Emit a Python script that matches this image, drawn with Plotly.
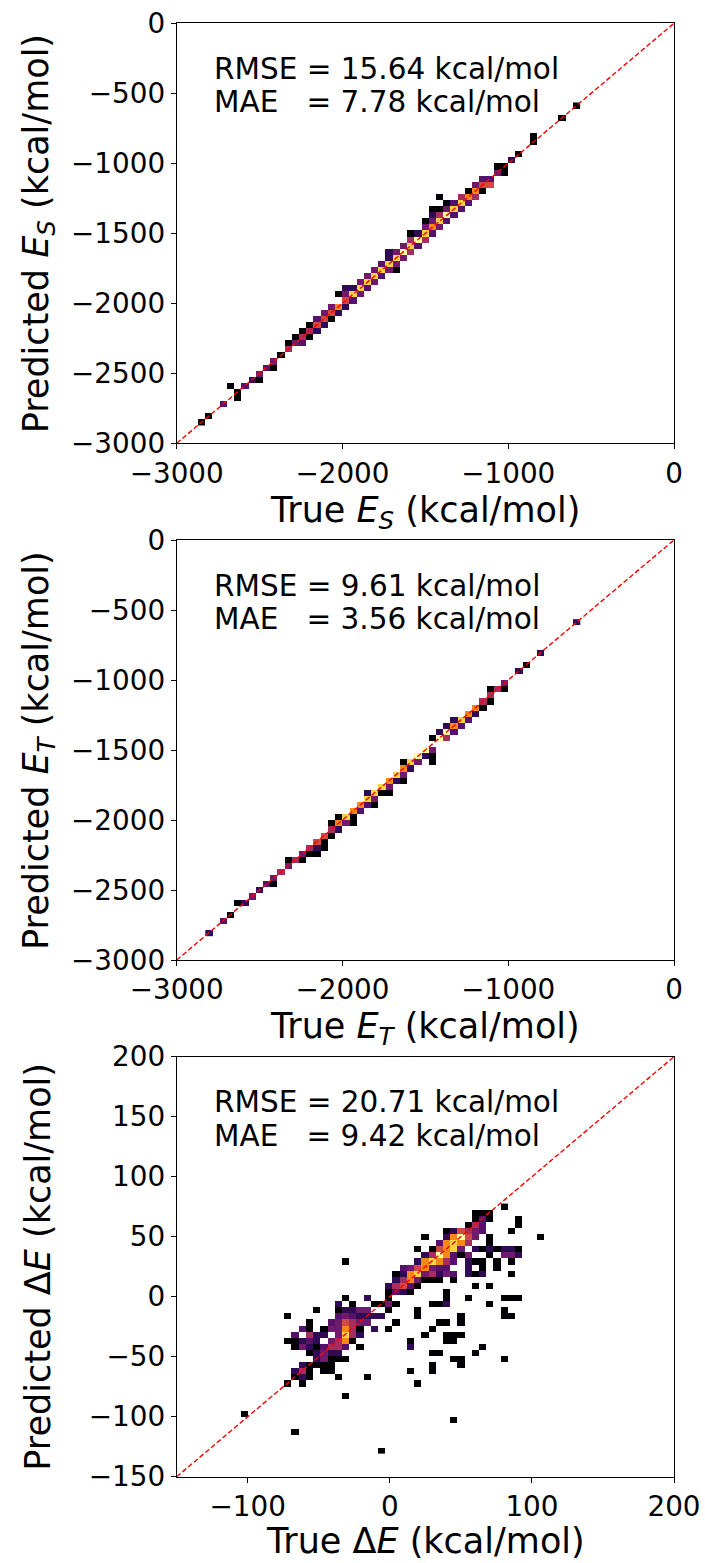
import numpy as np
import plotly.graph_objects as go

# ---------------- data (bin centres in kcal/mol, counts per bin) ----------------
# Panel 1 : singlet energy E_S
es_true = [-2849, -2806, -2718, -2675, -2632, -2632, -2588, -2544, -2501, -2501, -2458, -2414, -2414,
           -2370, -2327, -2327, -2284, -2284, -2240, -2240, -2240, -2196, -2196, -2196, -2153, -2153,
           -2153, -2110, -2110, -2110, -2066, -2066, -2066, -2022, -2022, -2022, -1979, -1979, -1979,
           -1979, -1936, -1936, -1936, -1892, -1892, -1892, -1848, -1848, -1848, -1805, -1805, -1805,
           -1762, -1762, -1762, -1718, -1718, -1718, -1718, -1674, -1674, -1674, -1674, -1631, -1631,
           -1631, -1588, -1588, -1588, -1588, -1544, -1544, -1544, -1500, -1500, -1500, -1500, -1457,
           -1457, -1457, -1457, -1457, -1414, -1414, -1414, -1414, -1414, -1370, -1370, -1370, -1370,
           -1326, -1326, -1326, -1283, -1283, -1283, -1240, -1240, -1240, -1196, -1196, -1196, -1152,
           -1152, -1152, -1109, -1109, -1066, -1066, -1022, -1022, -978, -935, -848, -848, -674, -587]
es_pred = [-2849, -2806, -2718, -2588, -2675, -2632, -2588, -2544, -2544, -2501, -2458, -2458, -2414,
           -2370, -2327, -2284, -2284, -2240, -2284, -2240, -2196, -2240, -2196, -2153, -2196, -2153,
           -2110, -2153, -2110, -2066, -2110, -2066, -2022, -2066, -2022, -1936, -2022, -1979, -1936,
           -1892, -1979, -1936, -1892, -1936, -1892, -1848, -1892, -1848, -1805, -1848, -1805, -1762,
           -1805, -1762, -1718, -1762, -1718, -1674, -1631, -1762, -1718, -1674, -1631, -1674, -1631,
           -1588, -1631, -1588, -1544, -1500, -1588, -1544, -1500, -1544, -1500, -1457, -1414, -1500,
           -1457, -1414, -1370, -1326, -1457, -1414, -1370, -1326, -1240, -1414, -1370, -1326, -1283,
           -1370, -1326, -1283, -1326, -1283, -1240, -1283, -1240, -1196, -1240, -1196, -1152, -1196,
           -1152, -1109, -1152, -1109, -1066, -1022, -1066, -1022, -978, -935, -848, -804, -674, -587]
es_count = [1, 1, 3, 1, 1, 1, 3, 2, 1, 4, 3, 1, 4,
            1, 7, 1, 4, 1, 3, 7, 1, 1, 7, 1, 2, 12,
            3, 2, 12, 4, 1, 12, 4, 2, 25, 1, 2, 12, 4,
            2, 3, 50, 2, 4, 50, 4, 3, 50, 4, 4, 50, 4,
            3, 50, 3, 4, 50, 2, 2, 1, 4, 50, 4, 4, 80,
            4, 7, 50, 7, 1, 3, 80, 2, 7, 50, 4, 1, 3,
            25, 4, 2, 1, 4, 50, 7, 1, 1, 3, 80, 4, 1,
            3, 50, 3, 3, 50, 7, 3, 25, 1, 7, 25, 4, 1,
            12, 3, 12, 3, 4, 1, 1, 1, 2, 1, 1, 1, 1, 1]

# Panel 2 : triplet energy E_T
et_true = [-2806, -2718, -2675, -2632, -2588, -2544, -2501, -2458, -2414, -2414, -2370, -2327, -2327,
           -2284, -2240, -2240, -2196, -2196, -2153, -2153, -2153, -2110, -2110, -2110, -2066, -2066,
           -2066, -2022, -2022, -2022, -1979, -1979, -1936, -1936, -1936, -1892, -1892, -1848, -1848,
           -1848, -1805, -1805, -1805, -1762, -1762, -1718, -1718, -1718, -1674, -1674, -1631, -1631,
           -1631, -1631, -1588, -1588, -1544, -1544, -1500, -1500, -1457, -1457, -1457, -1457, -1414,
           -1414, -1370, -1370, -1370, -1326, -1326, -1326, -1283, -1283, -1240, -1240, -1196, -1196,
           -1152, -1152, -1109, -1109, -1109, -1066, -1022, -1022, -935, -892, -804, -587]
et_pred = [-2806, -2718, -2675, -2588, -2588, -2544, -2501, -2458, -2458, -2414, -2370, -2327, -2284,
           -2284, -2284, -2240, -2240, -2196, -2240, -2196, -2153, -2196, -2153, -2110, -2110, -2066,
           -2022, -2066, -2022, -1979, -2022, -1979, -2022, -1979, -1936, -1936, -1892, -1892, -1848,
           -1805, -1892, -1848, -1805, -1805, -1762, -1805, -1762, -1718, -1718, -1674, -1718, -1674,
           -1631, -1588, -1631, -1588, -1588, -1544, -1544, -1500, -1588, -1544, -1500, -1414, -1414,
           -1370, -1414, -1370, -1326, -1370, -1326, -1283, -1326, -1283, -1283, -1240, -1240, -1196,
           -1196, -1152, -1152, -1109, -1066, -1066, -1066, -1022, -935, -892, -804, -587]
et_count = [2, 3, 1, 1, 2, 4, 2, 3, 1, 4, 7, 4, 1,
            7, 1, 4, 1, 7, 1, 2, 12, 1, 1, 12, 1, 7,
            1, 2, 25, 1, 4, 50, 1, 1, 25, 3, 25, 3, 50,
            2, 1, 4, 50, 1, 50, 1, 4, 25, 2, 50, 1, 4,
            25, 1, 2, 50, 4, 80, 2, 80, 1, 1, 4, 1, 80,
            2, 7, 80, 2, 3, 25, 2, 3, 50, 3, 25, 2, 25,
            1, 7, 1, 7, 1, 7, 1, 4, 2, 1, 2, 2]

# Panel 3 : gap Delta E
de_true = [80.5,
           60.2, 65.3, 70.3,
           60.2, 65.3, 70.3, 90.6,
           55.1, 60.2, 65.3, 90.6,
           39.9, 45.0, 50.0, 55.1, 60.2, 65.3, 85.6,
           24.7, 39.9, 45.0, 50.0, 55.1, 60.2, 70.3, 105.9,
           34.8, 39.9, 45.0, 50.0, 55.1, 70.3,
           19.6, 29.7, 34.8, 39.9, 45.0, 50.0, 60.2, 65.3, 70.3, 75.4, 80.5, 85.6, 90.6,
           24.7, 29.7, 34.8, 39.9, 45.0, 50.0, 55.1, 70.3, 80.5, 85.6, 90.6,
           -31.2, 19.6, 24.7, 29.7, 34.8, 39.9, 45.0, 55.1, 60.2, 65.3, 75.4, 85.6,
           9.4, 14.5, 19.6, 24.7, 29.7, 34.8, 39.9, 55.1, 65.3, 75.4,
           4.4, 9.4, 14.5, 19.6, 24.7, 29.7, 34.8, 39.9, 45.0, 55.1, 60.2, 65.3, 85.6,
           4.4, 9.4, 14.5, 19.6, 24.7, 29.7, 34.8, 45.0,
           -0.7, 4.4, 9.4, 14.5, 19.6, 60.2, 70.3,
           -0.7, 4.4, 9.4, 14.5, 39.9,
           -31.2, -15.9, -0.7, 39.9, 55.1, 80.5, 85.6, 90.6,
           -36.2, -26.1, -10.9, -5.8, -0.7, 4.4, 29.7, 34.8, 39.9, 70.3,
           -51.5, -36.2, -31.2, -26.1, -21.0, -15.9, -0.7, 19.6, 80.5,
           -71.8, -36.2, -31.2, -26.1, -21.0, -15.9, -10.9, -5.8, 19.6, 50.0, 80.5, 85.6,
           -56.5, -41.3, -36.2, -31.2, -26.1, -21.0, -15.9, 4.4, 34.8, 39.9, 50.0,
           -61.6, -56.5, -46.4, -41.3, -36.2, -31.2, -26.1, -21.0, -10.9, -0.7, 29.7,
           -66.7, -56.5, -51.5, -46.4, -36.2, -31.2, -26.1, -21.0, 24.7, 39.9, 45.0, 50.0,
           -71.8, -66.7, -61.6, -56.5, -51.5, -41.3, -36.2, -31.2, -26.1, 14.5, 39.9, 45.0,
           -66.7, -61.6, -56.5, -51.5, -46.4, -41.3, -36.2, -31.2, -21.0, 14.5, 65.3,
           -56.5, -51.5, -46.4, -41.3, -36.2, 29.7, 34.8, 60.2,
           -51.5, -46.4, -41.3, -36.2, -31.2, 45.0, 50.0, 80.5,
           -61.6, -56.5, -51.5, -46.4, -41.3, 29.7, 50.0,
           -66.7, -61.6, -56.5, -46.4, -41.3, 14.5, 29.7,
           -66.7, -61.6, -56.5, -36.2, -15.9,
           -71.8, -61.6, 19.6,
           -31.2,
           -102.2,
           45.0,
           -66.7,
           -5.8]
de_pred = [75.0,
           70.0, 70.0, 70.0,
           64.9, 64.9, 64.9, 64.9,
           59.8, 59.8, 59.8, 59.8,
           54.7, 54.7, 54.7, 54.7, 54.7, 54.7, 54.7,
           49.7, 49.7, 49.7, 49.7, 49.7, 49.7, 49.7, 49.7,
           44.6, 44.6, 44.6, 44.6, 44.6, 44.6,
           39.5, 39.5, 39.5, 39.5, 39.5, 39.5, 39.5, 39.5, 39.5, 39.5, 39.5, 39.5, 39.5,
           34.4, 34.4, 34.4, 34.4, 34.4, 34.4, 34.4, 34.4, 34.4, 34.4, 34.4,
           29.4, 29.4, 29.4, 29.4, 29.4, 29.4, 29.4, 29.4, 29.4, 29.4, 29.4, 29.4,
           24.3, 24.3, 24.3, 24.3, 24.3, 24.3, 24.3, 24.3, 24.3, 24.3,
           19.2, 19.2, 19.2, 19.2, 19.2, 19.2, 19.2, 19.2, 19.2, 19.2, 19.2, 19.2, 19.2,
           14.1, 14.1, 14.1, 14.1, 14.1, 14.1, 14.1, 14.1,
           9.1, 9.1, 9.1, 9.1, 9.1, 9.1, 9.1,
           4.0, 4.0, 4.0, 4.0, 4.0,
           -1.1, -1.1, -1.1, -1.1, -1.1, -1.1, -1.1, -1.1,
           -6.2, -6.2, -6.2, -6.2, -6.2, -6.2, -6.2, -6.2, -6.2, -6.2,
           -11.2, -11.2, -11.2, -11.2, -11.2, -11.2, -11.2, -11.2, -11.2,
           -16.3, -16.3, -16.3, -16.3, -16.3, -16.3, -16.3, -16.3, -16.3, -16.3, -16.3, -16.3,
           -21.4, -21.4, -21.4, -21.4, -21.4, -21.4, -21.4, -21.4, -21.4, -21.4, -21.4,
           -26.5, -26.5, -26.5, -26.5, -26.5, -26.5, -26.5, -26.5, -26.5, -26.5, -26.5,
           -31.5, -31.5, -31.5, -31.5, -31.5, -31.5, -31.5, -31.5, -31.5, -31.5, -31.5, -31.5,
           -36.6, -36.6, -36.6, -36.6, -36.6, -36.6, -36.6, -36.6, -36.6, -36.6, -36.6, -36.6,
           -41.7, -41.7, -41.7, -41.7, -41.7, -41.7, -41.7, -41.7, -41.7, -41.7, -41.7,
           -46.8, -46.8, -46.8, -46.8, -46.8, -46.8, -46.8, -46.8,
           -51.8, -51.8, -51.8, -51.8, -51.8, -51.8, -51.8, -51.8,
           -56.9, -56.9, -56.9, -56.9, -56.9, -56.9, -56.9,
           -62.0, -62.0, -62.0, -62.0, -62.0, -62.0, -62.0,
           -67.1, -67.1, -67.1, -67.1, -67.1,
           -72.1, -72.1, -72.1,
           -82.3,
           -97.5,
           -102.6,
           -112.7,
           -128.0]
de_count = [1,
            1, 1, 1,
            1, 3, 1, 1,
            1, 7, 3, 1,
            1, 2, 12, 7, 4, 3, 1,
            1, 2, 25, 80, 12, 4, 1, 1,
            3, 25, 50, 25, 7, 1,
            1, 1, 12, 25, 50, 4, 2, 1, 2, 1, 2, 2, 1,
            2, 7, 80, 25, 3, 1, 4, 1, 4, 4, 2,
            1, 2, 25, 50, 25, 7, 3, 2, 1, 1, 1, 1,
            3, 4, 12, 25, 4, 3, 3, 2, 1, 1,
            1, 2, 25, 50, 4, 7, 2, 4, 3, 2, 1, 2, 1,
            2, 7, 25, 4, 1, 1, 1, 1,
            2, 7, 12, 3, 1, 1, 1,
            1, 3, 2, 1, 1,
            1, 2, 1, 1, 1, 1, 1, 1,
            2, 1, 1, 1, 4, 1, 1, 1, 2, 1,
            1, 1, 2, 2, 4, 4, 1, 1, 1,
            1, 3, 4, 3, 2, 2, 2, 2, 1, 1, 1, 1,
            1, 3, 4, 12, 7, 4, 4, 1, 1, 1, 1,
            3, 1, 1, 4, 4, 25, 7, 1, 2, 1, 1,
            3, 7, 2, 2, 4, 50, 7, 2, 1, 1, 1, 1,
            1, 1, 2, 3, 2, 4, 7, 25, 1, 1, 1, 1,
            1, 4, 2, 1, 3, 7, 7, 3, 1, 2, 1,
            1, 2, 4, 2, 2, 1, 1, 1,
            2, 4, 1, 1, 1, 1, 1, 1,
            2, 1, 1, 1, 1, 1, 1,
            2, 7, 1, 1, 1, 1, 1,
            1, 2, 1, 1, 1,
            1, 1, 1,
            1,
            1,
            1,
            1,
            1]

# histogram bin settings: (start, size, number of bins) for true / predicted axes
es_xbins, es_ybins = (-2871.0, 43.5, 53), (-2871.0, 43.5, 53)
et_xbins, et_ybins = (-2827.5, 43.5, 52), (-2827.5, 43.5, 52)
de_xbins, de_ybins = (-104.75, 5.075, 42), (-130.5, 5.075, 41)

# axis limits and ticks
e_range = [-3000, 0]
e_xticks = [-3000, -2000, -1000, 0]
e_yticks = [-3000, -2500, -2000, -1500, -1000, -500, 0]
d_range = [-150, 200]
d_xticks = [-100, 0, 100, 200]
d_yticks = [-150, -100, -50, 0, 50, 100, 150, 200]

# metrics
rmse_vals = ["15.64", "9.61", "20.71"]
mae_vals = ["7.78", "3.56", "9.42"]
x_titles = ["True <i>E</i><sub><i>S</i></sub> (kcal/mol)",
            "True <i>E</i><sub><i>T</i></sub> (kcal/mol)",
            "True Δ<i>E</i> (kcal/mol)"]
y_titles = ["Predicted <i>E</i><sub><i>S</i></sub> (kcal/mol)",
            "Predicted <i>E</i><sub><i>T</i></sub> (kcal/mol)",
            "Predicted Δ<i>E</i> (kcal/mol)"]

# ---------------- figure ----------------
W, H = 705, 1563
FONT = "DejaVu Sans"
# matplotlib 'inferno' sampled at deciles
inferno = ["#000004", "#160b39", "#420a68", "#6a176e", "#932667", "#bc3754",
           "#dd513a", "#f37819", "#fca50a", "#f6d746", "#fcffa4"]
cscale = [[i / (len(inferno) - 1), c] for i, c in enumerate(inferno)]

# pixel layout of the three axes boxes
x_left, x_right = 176.7, 674.0
tops = [23.3, 540.0, 1056.7]
box_h = 420.0
xtitle_y = [-0.1636, -0.1636, -0.152]

panels = [
    (es_true, es_pred, es_count, es_xbins, es_ybins, e_range, e_range, e_xticks, e_yticks),
    (et_true, et_pred, et_count, et_xbins, et_ybins, e_range, e_range, e_xticks, e_yticks),
    (de_true, de_pred, de_count, de_xbins, de_ybins, d_range, d_range, d_xticks, d_yticks),
]


def edges(b):
    start, size, n = b
    return start + size * np.arange(n + 1)


def fmt(v):
    return str(v).replace("-", "\u2212")


fig = go.Figure()
annotations = []
layout_axes = {}
for k, (tv, pv, cv, xb, yb, xr, yr, xt, yt) in enumerate(panels):
    sfx = "" if k == 0 else str(k + 1)
    xe, ye = edges(xb), edges(yb)
    Hc, _, _ = np.histogram2d(np.array(tv, float), np.array(pv, float),
                              bins=[xe, ye], weights=np.array(cv, float))
    Z = Hc.T
    zmax = np.log10(Z.max())
    zl = [[(float(np.log10(v)) if v > 0 else None) for v in row] for row in Z]
    fig.add_trace(go.Heatmap(x=xe.tolist(), y=ye.tolist(), z=zl, colorscale=cscale,
                             zmin=0, zmax=float(zmax),
                             showscale=False, hoverinfo="skip",
                             xaxis="x" + sfx, yaxis="y" + sfx))
    fig.add_trace(go.Scatter(x=xr, y=yr, mode="lines", showlegend=False, hoverinfo="skip",
                             line=dict(color="red", width=1.4, dash="5px,2.5px"),
                             xaxis="x" + sfx, yaxis="y" + sfx))
    top = tops[k]
    bot = top + box_h
    ydom = [1 - bot / H, 1 - top / H]
    common = dict(showline=True, linecolor="black", linewidth=1.1, mirror=True,
                  ticks="outside", ticklen=5, tickwidth=1.1, tickcolor="black",
                  showgrid=False, zeroline=False, automargin=False,
                  tickfont=dict(family=FONT, size=27.8, color="black"))
    layout_axes["xaxis" + sfx] = dict(domain=[x_left / W, x_right / W], range=xr,
                                      tickvals=xt, ticktext=[fmt(v) for v in xt],
                                      anchor="y" + sfx, **common)
    layout_axes["yaxis" + sfx] = dict(domain=ydom, range=yr,
                                      tickvals=yt, ticktext=[fmt(v) for v in yt],
                                      anchor="x" + sfx, **common)
    xref, yref = "x" + sfx + " domain", "y" + sfx + " domain"
    annotations.append(dict(text=x_titles[k], xref=xref, yref=yref, x=0.5, y=xtitle_y[k],
                            xanchor="center", yanchor="middle", showarrow=False,
                            font=dict(family=FONT, size=35, color="black")))
    annotations.append(dict(text=y_titles[k], xref=xref, yref=yref, x=-0.279, y=0.5,
                            textangle=-90, xanchor="center", yanchor="middle", showarrow=False,
                            font=dict(family=FONT, size=35, color="black")))
    annotations.append(dict(text="RMSE = " + rmse_vals[k] + " kcal/mol", xref=xref, yref=yref,
                            x=0.0704, y=0.8912, xanchor="left", yanchor="middle", showarrow=False,
                            font=dict(family=FONT, size=29.5, color="black")))
    annotations.append(dict(text="MAE\u00a0\u00a0\u00a0= " + mae_vals[k] + " kcal/mol",
                            xref=xref, yref=yref,
                            x=0.0704, y=0.8117, xanchor="left", yanchor="middle", showarrow=False,
                            font=dict(family=FONT, size=29.5, color="black")))

fig.update_layout(width=W, height=H, margin=dict(l=0, r=0, t=0, b=0, autoexpand=False),
                  paper_bgcolor="white", plot_bgcolor="white", showlegend=False,
                  annotations=annotations, **layout_axes)
fig.write_html("out.html")
